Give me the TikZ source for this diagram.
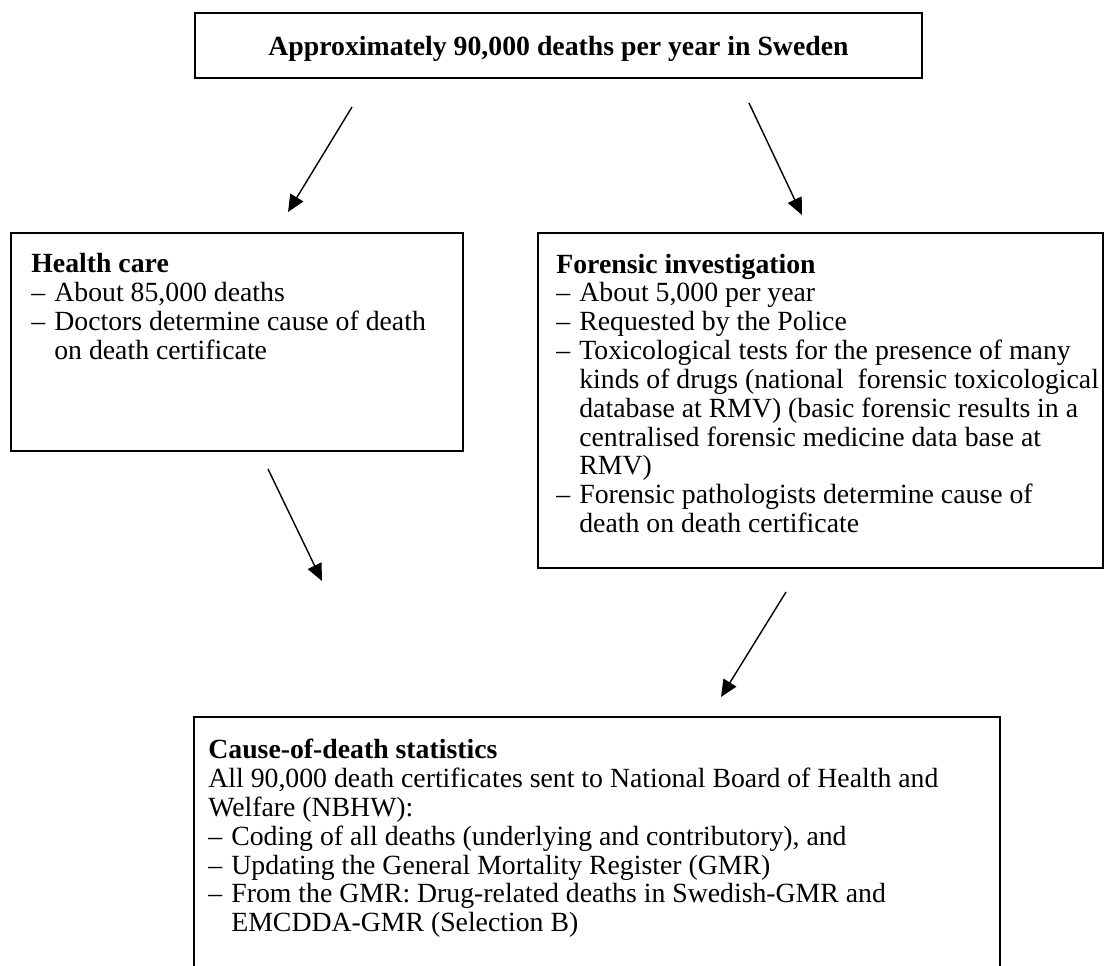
\documentclass[tikz,border=0pt]{standalone}
\usepackage{fontspec}
\setmainfont{Liberation Serif}
\usetikzlibrary{positioning,arrows.meta}

\newcommand{\itemdash}{\makebox[0.46cm][l]{--}}
\newcommand{\itemind}{\hspace*{0.46cm}}

\tikzset{
	box/.style={draw, line width=1.1pt, inner sep=0pt},
	txt/.style={anchor=north west, align=left, inner sep=0pt,
		font=\fontsize{15.8pt}{16.4pt}\selectfont},
	arr/.style={line width=0.8pt, -{Triangle[length=0.34cm,width=0.3cm]}}
}

\begin{document}
\begin{tikzpicture}[x=0.02cm,y=-0.02cm]
	\useasboundingbox (0,0) rectangle (1113,965);
	\clip (0,0) rectangle (1113,965);

	% boxes
	\node[box, minimum width=14.54cm, minimum height=1.3cm] (total) at (558.5,45.5) {};
	\node[txt, anchor=base, font=\fontsize{15.8pt}{16.4pt}\selectfont\bfseries] (totaltxt)
		at ([yshift=-0.2cm]total.center) {Approximately 90,000 deaths per year in Sweden};
	\node[box, anchor=north west, minimum width=9.04cm, minimum height=4.36cm] (health) at (10,232) {};
	\node[box, anchor=north west, minimum width=11.3cm, minimum height=6.7cm] (forensic) at (537,232) {};
	\node[box, anchor=north west, minimum width=16.12cm, minimum height=6cm] (stats) at (193,716) {};

	% texts
	\node[txt] (healthtxt) at ([xshift=0.42cm,yshift=-0.42cm]health.north west)
		{\textbf{Health care}\\
		\itemdash About 85,000 deaths\\
		\itemdash Doctors determine cause of death\\
		\itemind on death certificate};
	\node[txt] (forensictxt) at ([xshift=0.38cm,yshift=-0.43cm]forensic.north west)
		{\textbf{Forensic investigation}\\
		\itemdash About 5,000 per year\\
		\itemdash Requested by the Police\\
		\itemdash Toxicological tests for the presence of many\\
		\itemind kinds of drugs (national\ \ forensic toxicological\\
		\itemind database at RMV) (basic forensic results in a\\
		\itemind centralised forensic medicine data base at\\
		\itemind RMV)\\
		\itemdash Forensic pathologists determine cause of\\
		\itemind death on death certificate};
	\node[txt] (statstxt) at ([xshift=0.3cm,yshift=-0.46cm]stats.north west)
		{\textbf{Cause-of-death statistics}\\
		All 90,000 death certificates sent to National Board of Health and\\
		Welfare (NBHW):\\
		\itemdash Coding of all deaths (underlying and contributory), and\\
		\itemdash Updating the General Mortality Register (GMR)\\
		\itemdash From the GMR: Drug-related deaths in Swedish-GMR and\\
		\itemind EMCDDA-GMR (Selection B)};

	% arrows
	\coordinate (a1) at (352,107); \coordinate (b1) at (288,212);
	\coordinate (a2) at (749,103); \coordinate (b2) at (802,215);
	\coordinate (a3) at (268,469); \coordinate (b3) at (322,581);
	\coordinate (a4) at (786,592); \coordinate (b4) at (721,697);
	\draw[arr] (a1) -- (b1);
	\draw[arr] (a2) -- (b2);
	\draw[arr] (a3) -- (b3);
	\draw[arr] (a4) -- (b4);
\end{tikzpicture}
\end{document}
